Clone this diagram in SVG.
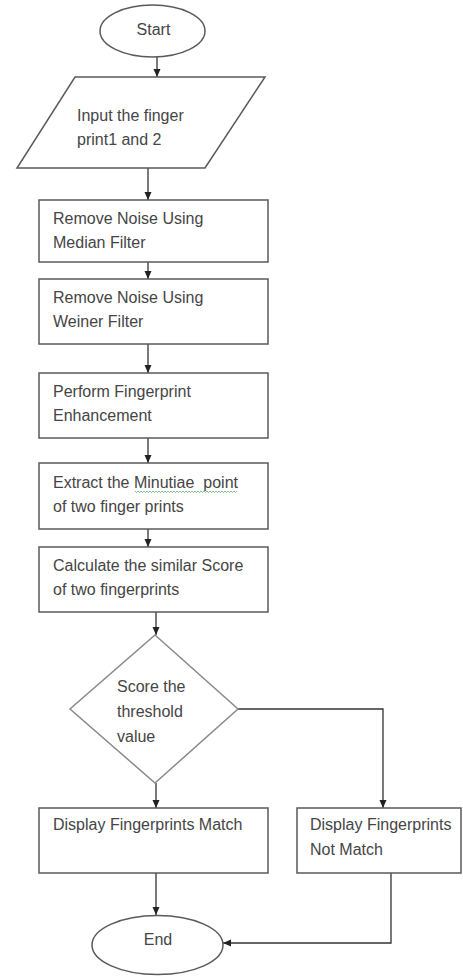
<svg xmlns="http://www.w3.org/2000/svg" width="463" height="976" viewBox="0 0 463 976">
<style>
.shape{fill:#fff;stroke:#5a5a5a;stroke-width:1.5}
.dia{fill:#fff;stroke:#8a8a8a;stroke-width:1.5}
.t{font-family:"Liberation Sans",Arial,sans-serif;font-size:16px;fill:#454545}
.c{stroke:#333;stroke-width:1.3;fill:none}
.sq{stroke:#7fbf7f;stroke-width:1;fill:none}
</style>
<defs>
<marker id="ah" markerWidth="8" markerHeight="8" refX="8" refY="3.5" orient="auto" markerUnits="userSpaceOnUse">
<path d="M0,0 L8,3.5 L0,7 z" fill="#222"/>
</marker>
</defs>
<rect width="463" height="976" fill="#fff"/>
<g id="connectors">
<line class="c" x1="157" y1="57" x2="157" y2="77" marker-end="url(#ah)"/>
<line class="c" x1="148" y1="168" x2="148" y2="200" marker-end="url(#ah)"/>
<line class="c" x1="148" y1="262" x2="148" y2="279" marker-end="url(#ah)"/>
<line class="c" x1="148" y1="344" x2="148" y2="373" marker-end="url(#ah)"/>
<line class="c" x1="148" y1="438" x2="148" y2="463" marker-end="url(#ah)"/>
<line class="c" x1="148" y1="529" x2="148" y2="547" marker-end="url(#ah)"/>
<line class="c" x1="156" y1="612" x2="156" y2="635" marker-end="url(#ah)"/>
<line class="c" x1="156" y1="783" x2="156" y2="808" marker-end="url(#ah)"/>
<polyline class="c" points="238,709 383,709 383,808" marker-end="url(#ah)"/>
<line class="c" x1="156" y1="873" x2="156" y2="915" marker-end="url(#ah)"/>
<polyline class="c" points="391,873 391,943 223,943" marker-end="url(#ah)"/>
</g>
<g id="start">
<ellipse class="shape" cx="152.5" cy="31" rx="52.5" ry="26"/>
<text class="t" x="153.5" y="35" text-anchor="middle">Start</text>
</g>
<g id="input">
<polygon class="shape" points="75,77 265,77 205,168 17,168"/>
<text class="t" x="77" y="121">Input the finger</text>
<text class="t" x="77" y="145">print1 and 2</text>
</g>
<g id="median">
<rect class="shape" x="39" y="200" width="229" height="62"/>
<text class="t" x="53" y="224">Remove Noise Using</text>
<text class="t" x="53" y="248">Median Filter</text>
</g>
<g id="weiner">
<rect class="shape" x="39" y="279" width="229" height="65"/>
<text class="t" x="53" y="303">Remove Noise Using</text>
<text class="t" x="53" y="327">Weiner Filter</text>
</g>
<g id="enhance">
<rect class="shape" x="39" y="373" width="229" height="65"/>
<text class="t" x="53" y="397">Perform Fingerprint</text>
<text class="t" x="53" y="421">Enhancement</text>
</g>
<g id="extract">
<rect class="shape" x="39" y="463" width="229" height="66"/>
<text class="t" x="53" y="488" xml:space="preserve">Extract the Minutiae  point</text>
<path class="sq" d="M135 491 l1.5 1.5 1.5 -1.5 1.5 1.5 1.5 -1.5 1.5 1.5 1.5 -1.5 1.5 1.5 1.5 -1.5 1.5 1.5 1.5 -1.5 1.5 1.5 1.5 -1.5 1.5 1.5 1.5 -1.5 1.5 1.5 1.5 -1.5 1.5 1.5 1.5 -1.5 1.5 1.5 1.5 -1.5 1.5 1.5 1.5 -1.5 1.5 1.5 1.5 -1.5 1.5 1.5 1.5 -1.5 1.5 1.5 1.5 -1.5 1.5 1.5 1.5 -1.5 1.5 1.5 1.5 -1.5 1.5 1.5 1.5 -1.5 1.5 1.5 1.5 -1.5 1.5 1.5 1.5 -1.5 1.5 1.5 1.5 -1.5 1.5 1.5 1.5 -1.5 1.5 1.5 1.5 -1.5 1.5 1.5 1.5 -1.5 1.5 1.5 1.5 -1.5 1.5 1.5 1.5 -1.5 1.5 1.5 1.5 -1.5 1.5 1.5 1.5 -1.5 1.5 1.5 1.5 -1.5 1.5 1.5 1.5 -1.5 1.5 1.5 1.5 -1.5 1.5 1.5 1.5 -1.5 1.5 1.5 1.5 -1.5 1.5 1.5 1.5 -1.5 1.5 1.5 1.5 -1.5"/>
<text class="t" x="53" y="512">of two finger prints</text>
</g>
<g id="score">
<rect class="shape" x="39" y="547" width="229" height="65"/>
<text class="t" x="53" y="571">Calculate the similar Score</text>
<text class="t" x="53" y="595">of two fingerprints</text>
</g>
<g id="decision">
<polygon class="dia" points="155,635 238,709 155,783 70,709"/>
<text class="t" x="117" y="692">Score the</text>
<text class="t" x="117" y="717">threshold</text>
<text class="t" x="117" y="742">value</text>
</g>
<g id="match">
<rect class="shape" x="39" y="808" width="229" height="65"/>
<text class="t" x="53" y="830">Display Fingerprints Match</text>
</g>
<g id="notmatch">
<rect class="shape" x="297" y="808" width="164" height="65"/>
<text class="t" x="310" y="830">Display Fingerprints</text>
<text class="t" x="310" y="855">Not Match</text>
</g>
<g id="end">
<ellipse class="shape" cx="157.5" cy="945" rx="65.5" ry="29.5"/>
<text class="t" x="158" y="945" text-anchor="middle">End</text>
</g>
</svg>
